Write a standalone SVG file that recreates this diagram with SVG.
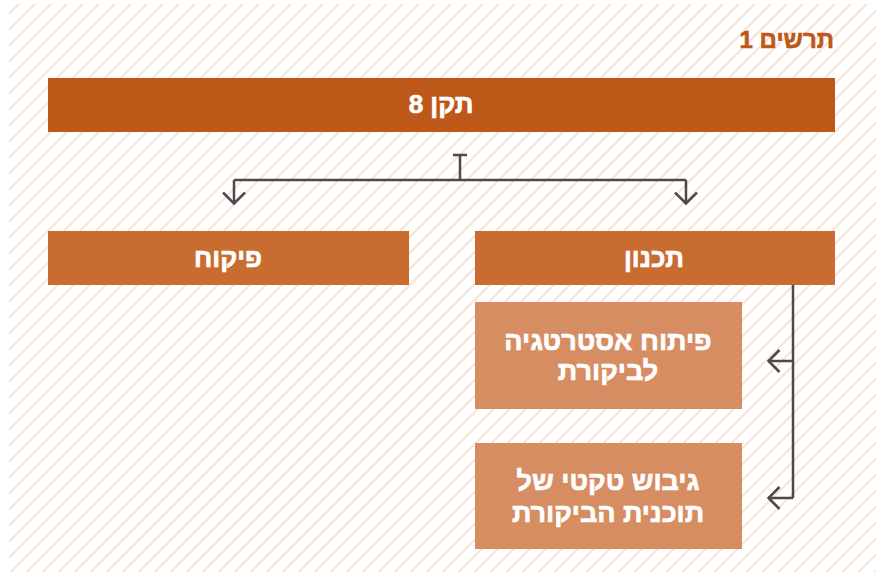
<svg xmlns="http://www.w3.org/2000/svg" width="876" height="572" viewBox="0 0 876 572">
<style>
.t{font-family:"Liberation Sans","DejaVu Sans",sans-serif;font-weight:bold;fill:#ffffff;stroke:#ffffff;stroke-width:0.7;text-anchor:middle}
.c{fill:none;stroke:#4a4a4a;stroke-width:2.5}
</style>
<defs>
<pattern id="hatch" patternUnits="userSpaceOnUse" width="11.31" height="11.31" patternTransform="rotate(45)">
<line x1="5" y1="-1" x2="5" y2="13" stroke="#f6dcc9" stroke-width="1.6"/>
</pattern>
<marker id="ah" viewBox="0 0 14 24" refX="12.5" refY="12" markerWidth="14" markerHeight="24" markerUnits="userSpaceOnUse" orient="auto">
<path d="M1,1 L12,12 L1,23" fill="none" stroke="#4a4a4a" stroke-width="2.5"/>
</marker>
</defs>
<rect x="0" y="0" width="876" height="572" fill="#ffffff"/>
<rect x="9" y="4" width="867" height="568" fill="url(#hatch)"/>
<text x="834" y="48" direction="rtl" style="font-family:'Liberation Sans','DejaVu Sans',sans-serif;font-weight:bold;font-size:24px;fill:#bd5818;stroke:#bd5818;stroke-width:0.6;text-anchor:start">תרשים 1</text>
<g id="connectors">
<path class="c" d="M453,155 H467 M460,155 V180 M234,180 H686"/>
<path class="c" d="M234,180 V204" marker-end="url(#ah)"/>
<path class="c" d="M686,180 V204" marker-end="url(#ah)"/>
<path class="c" d="M793,285 V498"/>
<path class="c" d="M793,361 H768" marker-end="url(#ah)"/>
<path class="c" d="M793,498 H768" marker-end="url(#ah)"/>
</g>
<g id="n-teken8">
<rect x="48" y="78" width="787" height="54" fill="#bd5818"/>
<text class="t" x="441" y="113" direction="rtl" font-size="26">תקן 8</text>
</g>
<g id="n-pikuach">
<rect x="48" y="231" width="361" height="54" fill="#c86c2f"/>
<text class="t" x="228" y="267" direction="rtl" font-size="26">פיקוח</text>
</g>
<g id="n-tichnun">
<rect x="475" y="231" width="360" height="54" fill="#c86c2f"/>
<text class="t" x="654" y="267" direction="rtl" font-size="26">תכנון</text>
</g>
<g id="n-strategy">
<rect x="475" y="302" width="267" height="107" fill="#d68d61"/>
<text class="t" x="608" y="350" direction="rtl" font-size="27">פיתוח אסטרטגיה</text>
<text class="t" x="608" y="380" direction="rtl" font-size="27">לביקורת</text>
</g>
<g id="n-plan">
<rect x="475" y="443" width="267" height="106" fill="#d68d61"/>
<text class="t" x="608" y="490" direction="rtl" font-size="27">גיבוש טקטי של</text>
<text class="t" x="608" y="522" direction="rtl" font-size="27">תוכנית הביקורת</text>
</g>
</svg>
